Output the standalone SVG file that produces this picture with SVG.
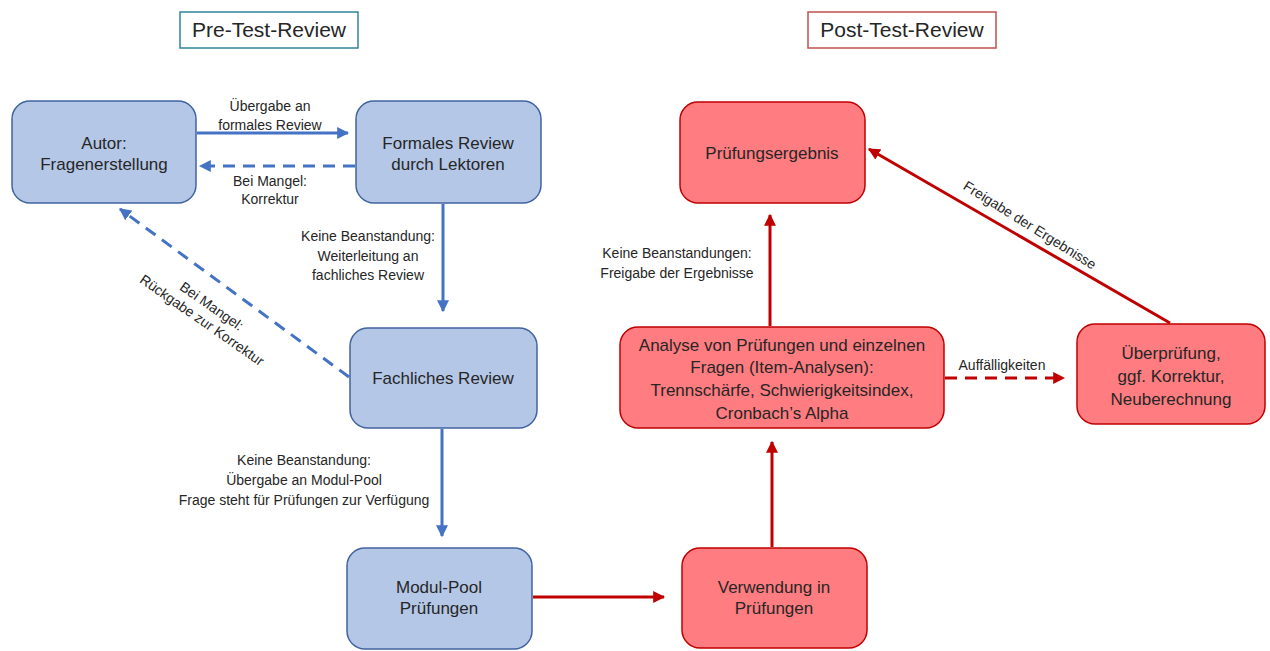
<svg xmlns="http://www.w3.org/2000/svg" width="1270" height="651" viewBox="0 0 1270 651">
<defs>
<style>
.bn{fill:#b4c7e7;stroke:#41649f;stroke-width:1.5}
.rn{fill:#ff7c80;stroke:#c00000;stroke-width:1.5}
.t{font-family:"Liberation Sans",Arial,sans-serif;font-size:17px;fill:#262626;text-anchor:middle}
.s{font-family:"Liberation Sans",Arial,sans-serif;font-size:14px;fill:#262626;text-anchor:middle}
.h{font-family:"Liberation Sans",Arial,sans-serif;font-size:21px;fill:#262626;text-anchor:middle}
.bl{stroke:#4472c4;stroke-width:3;fill:none}
.rl{stroke:#c00000;stroke-width:3;fill:none}
.d{stroke-dasharray:12 8}
</style>
<marker id="ab" viewBox="0 0 10 10" refX="9" refY="5" markerWidth="4" markerHeight="4" orient="auto" markerUnits="strokeWidth"><path d="M0,0 L10,5 L0,10 z" fill="#4472c4"/></marker>
<marker id="ar" viewBox="0 0 10 10" refX="9" refY="5" markerWidth="4" markerHeight="4" orient="auto" markerUnits="strokeWidth"><path d="M0,0 L10,5 L0,10 z" fill="#c00000"/></marker>
</defs>
<rect width="1270" height="651" fill="#ffffff"/>
<g id="title-pre"><rect x="180" y="12" width="178" height="36" fill="#fff" stroke="#31849b" stroke-width="1.5"/><text class="h" x="269" y="37">Pre-Test-Review</text></g>
<g id="title-post"><rect x="808" y="12" width="188" height="36" fill="#fff" stroke="#c0504d" stroke-width="1.5"/><text class="h" x="902" y="37">Post-Test-Review</text></g>

<g id="connectors">
<line class="bl" x1="197" y1="133" x2="348" y2="133" marker-end="url(#ab)"/>
<line class="bl d" x1="355" y1="166" x2="200" y2="166" marker-end="url(#ab)"/>
<line class="bl" x1="443" y1="204" x2="443" y2="311" marker-end="url(#ab)"/>
<line class="bl d" x1="349" y1="377" x2="120" y2="209" marker-end="url(#ab)"/>
<line class="bl" x1="442" y1="429" x2="442" y2="536" marker-end="url(#ab)"/>
<line class="rl" x1="533" y1="597" x2="664" y2="597" marker-end="url(#ar)"/>
<line class="rl" x1="772" y1="547" x2="772" y2="442" marker-end="url(#ar)"/>
<line class="rl" x1="770" y1="326" x2="770" y2="215" marker-end="url(#ar)"/>
<line class="rl d" x1="945" y1="378" x2="1064" y2="378" marker-end="url(#ar)"/>
<line class="rl" x1="1170" y1="323" x2="869" y2="149" marker-end="url(#ar)"/>
<text class="s" x="270" y="111">Übergabe an</text>
<text class="s" x="270" y="130">formales Review</text>
<text class="s" x="270" y="186">Bei Mangel:</text>
<text class="s" x="270" y="204">Korrektur</text>
<text class="s" x="368" y="241">Keine Beanstandung:</text>
<text class="s" x="368" y="261">Weiterleitung an</text>
<text class="s" x="368" y="280">fachliches Review</text>
<g transform="translate(207,313) rotate(35)"><text class="s" x="0" y="-3.5">Bei Mangel:</text><text class="s" x="0" y="13.5">Rückgabe zur Korrektur</text></g>
<text class="s" x="304" y="465">Keine Beanstandung:</text>
<text class="s" x="304" y="485">Übergabe an Modul-Pool</text>
<text class="s" x="304" y="505">Frage steht für Prüfungen zur Verfügung</text>
<text class="s" x="677" y="258">Keine Beanstandungen:</text>
<text class="s" x="677" y="278">Freigabe der Ergebnisse</text>
<text class="s" x="1002" y="370">Auffälligkeiten</text>
<g transform="translate(1030,225) rotate(32)"><text class="s" x="0" y="5">Freigabe der Ergebnisse</text></g>
</g>

<g id="autor"><rect class="bn" x="12" y="101" width="184" height="102" rx="18"/><text class="t" x="104" y="149">Autor:</text><text class="t" x="104" y="170">Fragenerstellung</text></g>
<g id="formal"><rect class="bn" x="356" y="101" width="185" height="102" rx="18"/><text class="t" x="448" y="149">Formales Review</text><text class="t" x="448" y="170">durch Lektoren</text></g>
<g id="fachlich"><rect class="bn" x="350" y="328" width="187" height="100" rx="18"/><text class="t" x="443" y="384">Fachliches Review</text></g>
<g id="modulpool"><rect class="bn" x="347" y="548" width="185" height="101" rx="18"/><text class="t" x="439" y="593">Modul-Pool</text><text class="t" x="439" y="614">Prüfungen</text></g>
<g id="ergebnis"><rect class="rn" x="680" y="102" width="185" height="101" rx="18"/><text class="t" x="772" y="159">Prüfungsergebnis</text></g>
<g id="analyse"><rect class="rn" x="620" y="327" width="324" height="101" rx="18"/><text class="t" x="782" y="351">Analyse von Prüfungen und einzelnen</text><text class="t" x="782" y="373">Fragen (Item-Analysen):</text><text class="t" x="782" y="396">Trennschärfe, Schwierigkeitsindex,</text><text class="t" x="782" y="419">Cronbach’s Alpha</text></g>
<g id="ueberpruefung"><rect class="rn" x="1077" y="324" width="188" height="100" rx="18"/><text class="t" x="1171" y="359">Überprüfung,</text><text class="t" x="1171" y="382">ggf. Korrektur,</text><text class="t" x="1171" y="405">Neuberechnung</text></g>
<g id="verwendung"><rect class="rn" x="682" y="548" width="185" height="100" rx="18"/><text class="t" x="774" y="593">Verwendung in</text><text class="t" x="774" y="614">Prüfungen</text></g>
</svg>
